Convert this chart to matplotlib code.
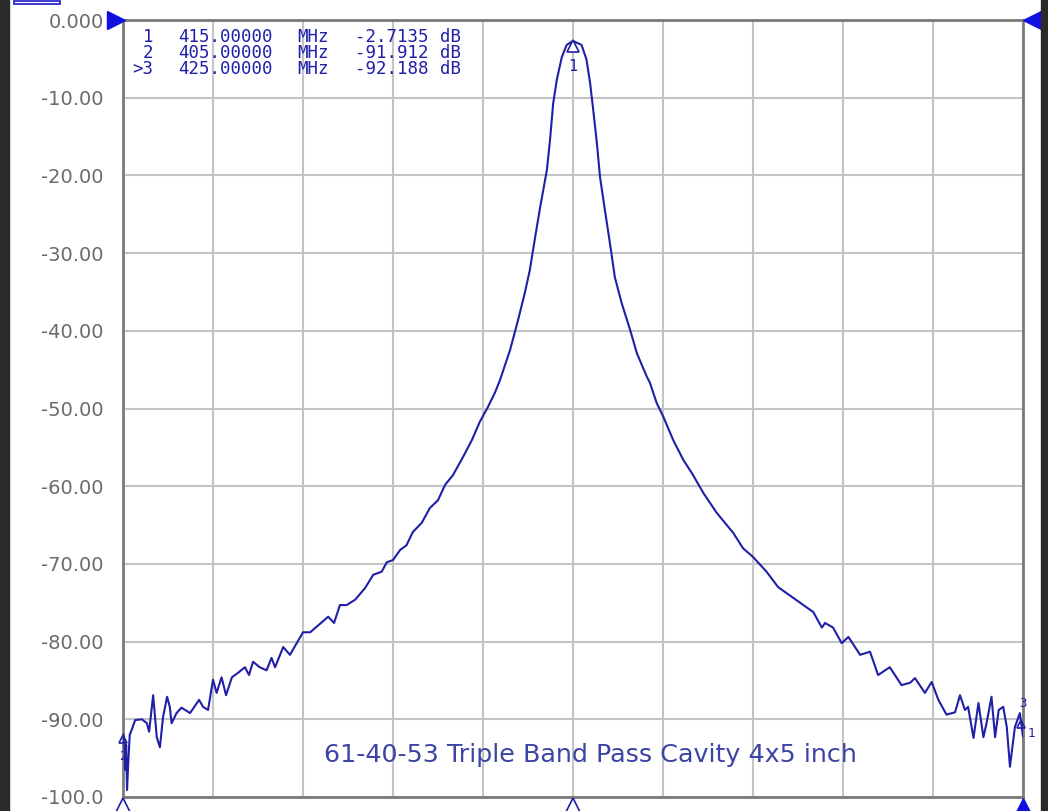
import matplotlib
matplotlib.use("Agg")
import matplotlib.pyplot as plt
from matplotlib.patches import Rectangle

# trace: frequency (MHz) and S21 (dB)
freq_mhz = [
    405.00, 405.03, 405.05, 405.07, 405.09, 405.12, 405.15, 405.19, 405.27, 405.42,
    405.53, 405.58, 405.67, 405.75, 405.82, 405.89, 405.98, 406.04, 406.08, 406.19,
    406.30, 406.49, 406.69, 406.78, 406.89, 407.00, 407.08, 407.19, 407.29, 407.42,
    407.56, 407.71, 407.80, 407.89, 408.04, 408.19, 408.30, 408.38, 408.56, 408.71,
    409.00, 409.16, 409.56, 409.69, 409.82, 409.97, 410.16, 410.38, 410.56, 410.75,
    410.86, 411.00, 411.16, 411.30, 411.44, 411.64, 411.82, 412.00, 412.16, 412.33,
    412.56, 412.75, 412.93, 413.11, 413.27, 413.38, 413.60, 413.78, 413.93, 414.04,
    414.16, 414.27, 414.42, 414.49, 414.56, 414.64, 414.75, 414.86, 415.00, 415.19,
    415.30, 415.38, 415.45, 415.53, 415.60, 415.71, 415.82, 415.93, 416.08, 416.27,
    416.42, 416.64, 416.71, 416.86, 417.01, 417.23, 417.45, 417.64, 417.90, 418.19,
    418.56, 418.78, 419.00, 419.30, 419.56, 419.90, 420.12, 420.34, 420.53, 420.60,
    420.78, 420.97, 421.12, 421.38, 421.60, 421.78, 422.04, 422.30, 422.49, 422.60,
    422.82, 422.97, 423.12, 423.30, 423.49, 423.60, 423.71, 423.78, 423.90, 424.01,
    424.12, 424.19, 424.30, 424.38, 424.46, 424.56, 424.64, 424.71, 424.82, 424.93,
    425.00,
]
s21_db = [
    -91.9, -92.7, -96.5, -93.3, -99.1, -95.2, -92.0, -91.4, -90.1, -90.0,
    -90.5, -91.6, -86.9, -92.3, -93.6, -89.7, -87.1, -88.4, -90.5, -89.2,
    -88.5, -89.2, -87.5, -88.4, -88.8, -84.9, -86.6, -84.6, -86.9, -84.6,
    -84.0, -83.3, -84.3, -82.6, -83.3, -83.7, -82.1, -83.3, -80.7, -81.7,
    -78.8, -78.8, -76.8, -77.6, -75.3, -75.3, -74.6, -73.1, -71.4, -71.0,
    -69.8, -69.5, -68.2, -67.6, -65.9, -64.7, -62.8, -61.8, -59.8, -58.6,
    -56.2, -54.1, -51.7, -49.8, -47.9, -46.3, -42.5, -38.6, -35.1, -32.2,
    -27.9, -24.1, -19.3, -15.4, -10.7, -7.7, -4.8, -3.2, -2.7, -3.2,
    -5.1, -8.1, -11.6, -15.8, -20.2, -24.5, -28.7, -33.1, -36.4, -39.9,
    -42.9, -45.9, -46.7, -49.3, -51.1, -54.1, -56.6, -58.3, -60.9, -63.4,
    -66.0, -68.0, -69.1, -71.0, -73.0, -74.4, -75.3, -76.2, -78.2, -77.6,
    -78.2, -80.2, -79.4, -81.7, -81.3, -84.3, -83.3, -85.6, -85.3, -84.7,
    -86.6, -85.2, -87.5, -89.4, -89.1, -86.9, -88.8, -88.4, -92.4, -87.9,
    -92.3, -90.5, -87.1, -92.3, -88.8, -88.4, -91.0, -96.1, -91.0, -89.2,
    -92.2,
]

marker_ids = ["1", "2", ">3"]
marker_freq = [415.0, 405.0, 425.0]
marker_db = [-2.7135, -91.912, -92.188]

y_ticks = [0, -10, -20, -30, -40, -50, -60, -70, -80, -90, -100]
y_labels = ["0.000", "-10.00", "-20.00", "-30.00", "-40.00", "-50.00",
            "-60.00", "-70.00", "-80.00", "-90.00", "-100.0"]
caption = "61-40-53 Triple Band Pass Cavity 4x5 inch"

TRACE = "#1f1fa8"
ARROW = "#1010e0"
GRID = "#c4c4c4"
FRAME = "#7a7a7a"

fig = plt.figure(figsize=(10.48, 8.11), dpi=100)
ax = fig.add_axes([123 / 1048, 1 - 797 / 811, 900 / 1048, 777 / 811])

ax.plot(freq_mhz, s21_db, color=TRACE, lw=1.5, zorder=3)
ax.set_xlim(405, 425)
ax.set_ylim(-100, 0)
ax.set_xticks([405 + 2 * i for i in range(11)])
ax.set_xticklabels([])
ax.set_yticks(y_ticks)
ax.set_yticklabels(y_labels, color="#6a6a6a", fontsize=14, family="DejaVu Sans")
ax.tick_params(length=0, pad=14)
ax.grid(True, color=GRID, lw=1.5)
for sp in ax.spines.values():
    sp.set_color(FRAME)
    sp.set_linewidth(2)

# marker readout, one cell at a time
mono = dict(family="DejaVu Sans Mono", fontsize=12.5, color=TRACE, va="center")
for i, mid in enumerate(marker_ids):
    ty = 1 - (37 + 16 * i) / 811
    v = marker_db[i]
    fig.text(153 / 1048, ty, mid, ha="right", **mono)
    fig.text(178 / 1048, ty, f"{marker_freq[i]:.5f}", ha="left", **mono)
    fig.text(297 / 1048, ty, "MHz", ha="left", **mono)
    fig.text(428 / 1048, ty, f"{v:.4f}" if abs(v) < 10 else f"{v:.3f}", ha="right", **mono)
    fig.text(440 / 1048, ty, "dB", ha="left", **mono)

# marker symbols on the trace
ax.plot([415.0], [-3.3], marker="^", ms=8, mfc="white", mec=TRACE, mew=1.2, zorder=4)
ax.text(415.0, -5.0, "1", ha="center", va="top", color=TRACE, family="DejaVu Sans Mono", fontsize=11)
ax.plot([405.0], [-92.5], marker="^", ms=6, mfc="none", mec=TRACE, mew=1.2, zorder=4, clip_on=False)
ax.text(405.0, -94.0, "2", ha="center", va="top", color=TRACE, family="DejaVu Sans Mono", fontsize=9)
ax.plot([424.95], [-90.6], marker="^", ms=6, mfc="none", mec=TRACE, mew=1.2, zorder=4, clip_on=False)
ax.text(425.0, -88.8, "3", ha="center", va="bottom", color=TRACE, family="DejaVu Sans Mono", fontsize=9)
ax.text(425.1, -91.0, "1", ha="left", va="top", color=TRACE, family="DejaVu Sans Mono", fontsize=9)

ax.text(415.38, -94.6, caption, ha="center", va="center", color="#3b44a4",
        family="DejaVu Sans", fontsize=18.3)

# reference / stimulus arrows around the grid (drawn as markers outside the axes)
ax.plot([404.85], [0], marker=">", ms=13, color=ARROW, clip_on=False, zorder=5)
ax.plot([425.2], [0], marker="<", ms=13, color=ARROW, clip_on=False, zorder=5)
ax.plot([405.0], [-101.4], marker="^", ms=14, mfc="white", mec=TRACE, mew=1.2, clip_on=False, zorder=5)
ax.plot([415.0], [-101.4], marker="^", ms=14, mfc="white", mec=TRACE, mew=1.2, clip_on=False, zorder=5)
ax.plot([425.0], [-101.4], marker="^", ms=14, color=ARROW, clip_on=False, zorder=5)

# dark window edges of the analyzer screen
fig.patches.append(Rectangle((0, 0), 9 / 1048, 1, transform=fig.transFigure, color="#2a2a2a"))
fig.patches.append(Rectangle((1041 / 1048, 0), 7 / 1048, 1, transform=fig.transFigure, color="#2a2a2a"))
fig.patches.append(Rectangle((14 / 1048, 1 - 4 / 811), 46 / 1048, 3 / 811,
                             transform=fig.transFigure, fill=False, ec="#1a1ad0", lw=1.2))

fig.savefig("out.png", dpi=100)
